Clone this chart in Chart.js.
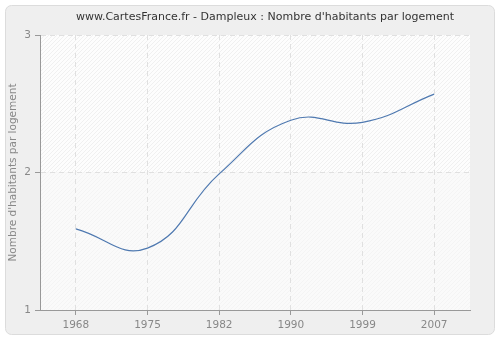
<!DOCTYPE html>
<html>
<head>
<meta charset="utf-8">
<script src="https://cdn.jsdelivr.net/npm/chart.js@4/dist/chart.umd.min.js"></script>
<style>
  html, body { margin: 0; padding: 0; background: #fff; }
  #wrap { width: 500px; height: 340px; }
</style>
</head>
<body>
<div id="wrap"><canvas id="chart" width="500" height="340"></canvas></div>
<script>
// Dampleux - Nombre d'habitants par logement

const YEARS = ['1968', '1975', '1982', '1990', '1999', '2007'];
const HABITANTS_PAR_LOGEMENT = [1.59, 1.45, 1.99, 2.38, 2.365, 2.57];
const Y_TICKS = [1, 2, 3];

const TITLE = "www.CartesFrance.fr - Dampleux : Nombre d'habitants par logement";
const FONT = "'DejaVu Sans', Verdana, sans-serif";

// --- Background patterns ---

function makeHatch(base, stroke) {
    const c = document.createElement('canvas');
    c.width = 4;
    c.height = 4;
    const g = c.getContext('2d');
    g.fillStyle = base;
    g.fillRect(0, 0, 4, 4);
    g.fillStyle = stroke;
    // one-pixel diagonal "/" stripe
    for (let i = 0; i < 4; i++) g.fillRect(i, 3 - i, 1, 1);
    return c;
}

const frame = {
    id: 'frame',
    beforeDraw(chart) {
        const ctx = chart.ctx;
        ctx.save();
        ctx.fillStyle = '#ffffff';
        ctx.fillRect(0, 0, chart.width, chart.height);
        ctx.beginPath();
        ctx.roundRect(5.5, 5.5, chart.width - 11, chart.height - 11, 6);
        ctx.fillStyle = '#efefef';
        ctx.fill();
        ctx.strokeStyle = '#dcdcdc';
        ctx.lineWidth = 1;
        ctx.stroke();

        // plot area: hatched above y=2, fainter below
        const a = chart.chartArea;
        const ySplit = chart.scales.y.getPixelForValue(2);
        ctx.fillStyle = ctx.createPattern(makeHatch('#fdfdfd', '#f0f0f0'), 'repeat');
        ctx.fillRect(a.left, a.top, a.right - a.left, ySplit - a.top);
        ctx.fillStyle = ctx.createPattern(makeHatch('#fafafa', '#f4f4f4'), 'repeat');
        ctx.fillRect(a.left, ySplit, a.right - a.left, a.bottom - ySplit);

        // title
        ctx.fillStyle = '#333333';
        ctx.font = '11px ' + FONT;
        ctx.textAlign = 'center';
        ctx.textBaseline = 'middle';
        ctx.fillText(TITLE, 265, 17);
        ctx.restore();
    }
};

const gridStyle = {
    color: '#e0e0e0',
    tickBorderDash: [],
    tickColor: '#999999',
    tickLength: 5,
};

new Chart(document.getElementById('chart'), {
    type: 'line',
    data: {
        labels: YEARS,
        datasets: [{
            data: HABITANTS_PAR_LOGEMENT,
            borderColor: '#4f79b0',
            borderWidth: 1.2,
            pointRadius: 0,
            tension: 0.45,
            fill: false,
        }],
    },
    options: {
        responsive: false,
        animation: false,
        devicePixelRatio: 1,
        layout: { padding: { top: 35, right: 30, left: 0, bottom: 0 } },
        plugins: {
            legend: { display: false },
            tooltip: { enabled: false },
        },
        scales: {
            x: {
                offset: true,
                afterFit: (s) => { s.height = 30; },
                grid: { ...gridStyle, offset: false },
                border: { color: '#999999', width: 1, dash: [5, 4] },
                ticks: { color: '#888888', font: { family: FONT, size: 10.5 }, padding: 4 },
            },
            y: {
                min: 1,
                max: 3,
                afterFit: (s) => { s.width = 40; },
                afterBuildTicks: (s) => { s.ticks = Y_TICKS.map(v => ({ value: v })); },
                grid: gridStyle,
                border: { color: '#999999', width: 1, dash: [5, 4] },
                ticks: { color: '#888888', font: { family: FONT, size: 10.5 }, padding: 4 },
                title: {
                    display: true,
                    text: "Nombre d'habitants par logement",
                    color: '#888888',
                    font: { family: FONT, size: 10.5 },
                    padding: { top: 7, bottom: 0 },
                },
            },
        },
    },
    plugins: [frame],
});
</script>
</body>
</html>
